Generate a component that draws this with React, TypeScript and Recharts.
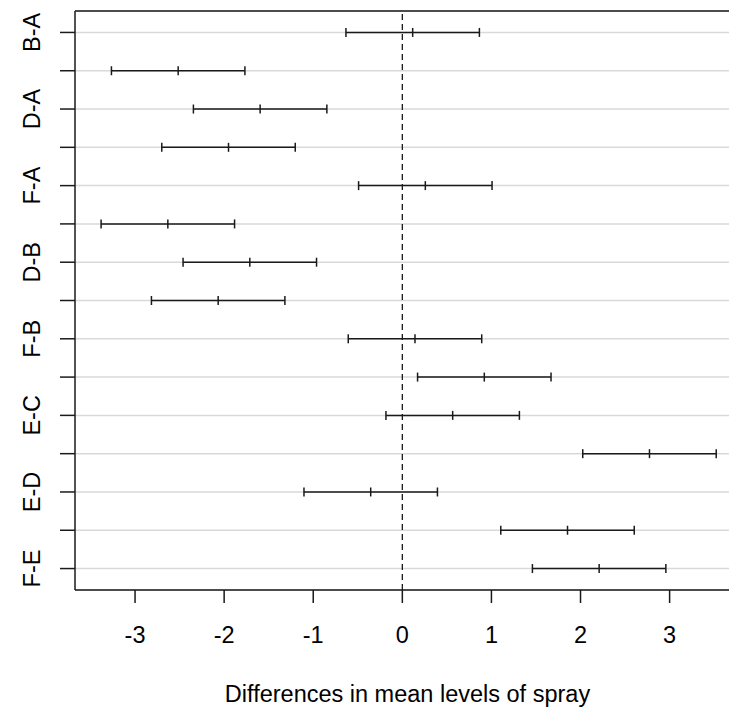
import React from 'react';
import {
  ComposedChart,
  Scatter,
  ErrorBar,
  XAxis,
  YAxis,
  CartesianGrid,
  ReferenceLine,
} from 'recharts';

const comparisons = ['B-A', 'C-A', 'D-A', 'E-A', 'F-A', 'C-B', 'D-B', 'E-B', 'F-B', 'D-C', 'E-C', 'F-C', 'E-D', 'F-D', 'F-E'];
const diffs = [0.116, -2.516, -1.596, -1.951, 0.258, -2.632, -1.712, -2.067, 0.142, 0.92, 0.565, 2.774, -0.355, 1.854, 2.209];
const lowers = [-0.633, -3.265, -2.345, -2.7, -0.491, -3.381, -2.461, -2.816, -0.607, 0.171, -0.184, 2.025, -1.104, 1.105, 1.46];
const uppers = [0.865, -1.767, -0.847, -1.202, 1.007, -1.883, -0.963, -1.318, 0.891, 1.669, 1.314, 3.523, 0.394, 2.603, 2.958];
const xTicks = [-3, -2, -1, 0, 1, 2, 3];
const shownLabels = ['B-A', 'D-A', 'F-A', 'D-B', 'F-B', 'E-C', 'E-D', 'F-E'];
const xTitle = 'Differences in mean levels of spray';

const data = comparisons.map((name, i) => ({
  name,
  row: i + 1,
  diff: diffs[i],
  err: [diffs[i] - lowers[i], uppers[i] - diffs[i]],
}));
const rowTicks = comparisons.map((_, i) => i + 1);

const FONT = '"Liberation Sans", Arial, sans-serif';
const FS = 23.5;
const INK = '#1a1a1a';

const YTick = (props: any) => {
  const { y, payload } = props;
  const label = comparisons[payload.value - 1];
  if (!shownLabels.includes(label)) return null;
  return (
    <text
      x={0}
      y={0}
      transform={`translate(32, ${y}) rotate(-90)`}
      textAnchor="middle"
      dy="0.36em"
      fontFamily={FONT}
      fontSize={FS}
      fill="#000"
    >
      {label}
    </text>
  );
};

const XTick = (props: any) => {
  const { x, payload } = props;
  return (
    <text x={x} y={643} textAnchor="middle" fontFamily={FONT} fontSize={FS} fill="#000">
      {payload.value}
    </text>
  );
};

const Mark = (props: any) => {
  const { cx, cy } = props;
  return <line x1={cx} x2={cx} y1={cy - 4.5} y2={cy + 4.5} stroke={INK} strokeWidth={1.5} />;
};

export default function App() {
  return (
    <div style={{ position: 'absolute', left: 0, top: 0, width: 729, height: 707, overflow: 'hidden', background: '#fff' }}>
      <ComposedChart width={741} height={707} data={data} margin={{ top: 11, right: 1, left: 0, bottom: 0 }}>
        <CartesianGrid horizontal={true} vertical={false} stroke="#d9d9d9" strokeWidth={1.5} />
        <XAxis
          type="number"
          dataKey="diff"
          domain={[-3.674, 3.79]}
          allowDataOverflow
          ticks={xTicks}
          height={117}
          tickSize={13}
          stroke={INK}
          strokeWidth={1.5}
          tickLine={{ stroke: INK, strokeWidth: 1.5 }}
          tick={<XTick />}
          label={{ value: xTitle, position: 'insideBottom', offset: 5, fontFamily: FONT, fontSize: FS, fill: '#000' }}
        />
        <YAxis
          type="number"
          dataKey="row"
          domain={[0.44, 15.56]}
          reversed
          allowDataOverflow
          ticks={rowTicks}
          width={75}
          tickSize={15}
          stroke={INK}
          strokeWidth={1.5}
          tickLine={{ stroke: INK, strokeWidth: 1.5 }}
          tick={<YTick />}
          interval={0}
        />
        <ReferenceLine y={0.44} stroke={INK} strokeWidth={1.5} ifOverflow="visible" />
        <ReferenceLine x={0} stroke={INK} strokeWidth={1.3} strokeDasharray="6 4" />
        <Scatter dataKey="diff" shape={<Mark />} isAnimationActive={false}>
          <ErrorBar dataKey="err" direction="x" width={4.5} stroke={INK} strokeWidth={1.5} />
        </Scatter>
      </ComposedChart>
    </div>
  );
}
